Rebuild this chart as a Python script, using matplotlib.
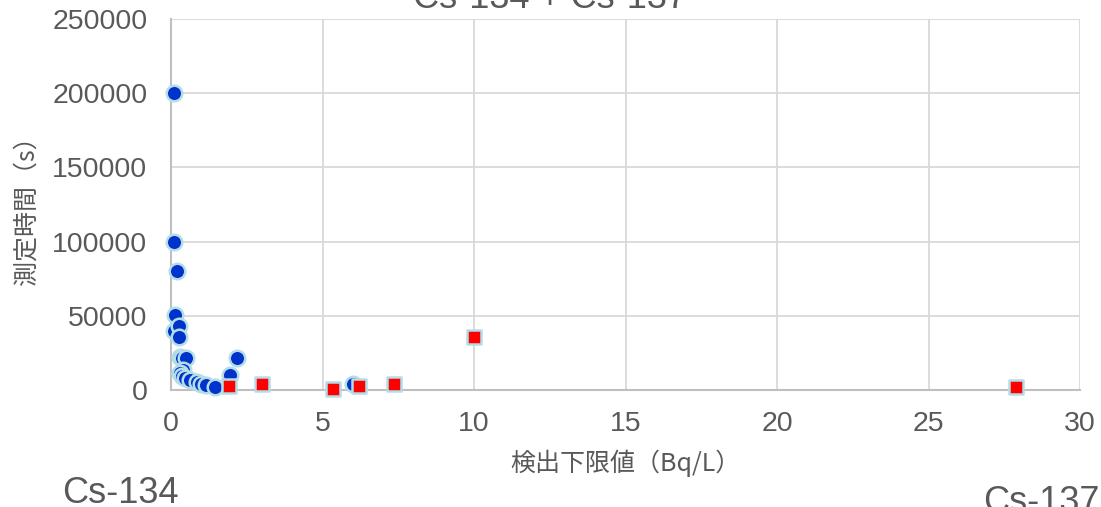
import matplotlib.pyplot as plt
import matplotlib as mpl

mpl.rcParams['font.family'] = ['Liberation Sans', 'Noto Sans CJK JP', 'DejaVu Sans']

# Cs-134 (blue circles)
cs134_x = [0.1, 0.1, 0.2, 0.13, 0.1, 0.27, 0.25, 0.3, 0.35, 0.5, 0.4, 0.3, 0.35, 0.45,
           0.63, 0.85, 1.0, 1.17, 1.45, 1.95, 2.17, 6.0]
cs134_y = [200000, 100000, 80000, 50500, 40000, 43000, 36000, 22000, 21500, 21500, 13500, 11500,
           9500, 8000, 6700, 5600, 4200, 3400, 2000, 10000, 21500, 4000]

# Cs-137 (red squares)
cs137_x = [1.9, 3.0, 5.35, 6.2, 7.35, 10.0, 27.9]
cs137_y = [2500, 4000, 1000, 3000, 4000, 36000, 2000]

xticks = [0, 5, 10, 15, 20, 25, 30]
yticks = [0, 50000, 100000, 150000, 200000, 250000]

W, H = 1101, 507
fig = plt.figure(figsize=(W / 100, H / 100), dpi=100)
ax = fig.add_axes([171 / W, 1 - 390 / H, (1080 - 171) / W, (390 - 19) / H])

ax.scatter(cs134_x, cs134_y, s=125, marker='o', color='#0033cc', edgecolors='#b4dde8',
           linewidths=1.8, zorder=3, clip_on=False)
ax.scatter(cs137_x, cs137_y, s=105, marker='s', color='#ff0000', edgecolors='#b4dde8',
           linewidths=1.8, zorder=4, clip_on=False)

ax.set_xlim(0, 30)
ax.set_ylim(0, 250000)
ax.set_xticks(xticks)
ax.set_yticks(yticks)
ax.grid(True, color='#d9d9d9', linewidth=1.3)
ax.set_axisbelow(True)
for side in ['top', 'right']:
    ax.spines[side].set_visible(False)
for side in ['left', 'bottom']:
    ax.spines[side].set_color('#bfbfbf')
    ax.spines[side].set_linewidth(1.5)
ax.tick_params(axis='both', length=0, labelsize=20.5, colors='#595959')
ax.tick_params(axis='y', pad=17)
ax.tick_params(axis='x', pad=15)

ax.set_xlabel('検出下限値（Bq/L）', fontsize=18, color='#595959', labelpad=9,
              family=['Noto Sans CJK JP', 'DejaVu Sans'])
ax.set_ylabel('測定時間（s）', fontsize=18, color='#595959', labelpad=9,
              family=['Noto Sans CJK JP', 'DejaVu Sans'])

fig.text(550 / W, 1 - 8 / H, 'Cs-134 + Cs-137', fontsize=26, color='#595959',
         ha='center', va='baseline')
fig.text(62 / W, 1 - 503 / H, 'Cs-134', fontsize=26, color='#595959', va='baseline')
fig.text(983 / W, 1 - 512 / H, 'Cs-137', fontsize=26, color='#595959', va='baseline')

fig.savefig('out.png', dpi=100)
